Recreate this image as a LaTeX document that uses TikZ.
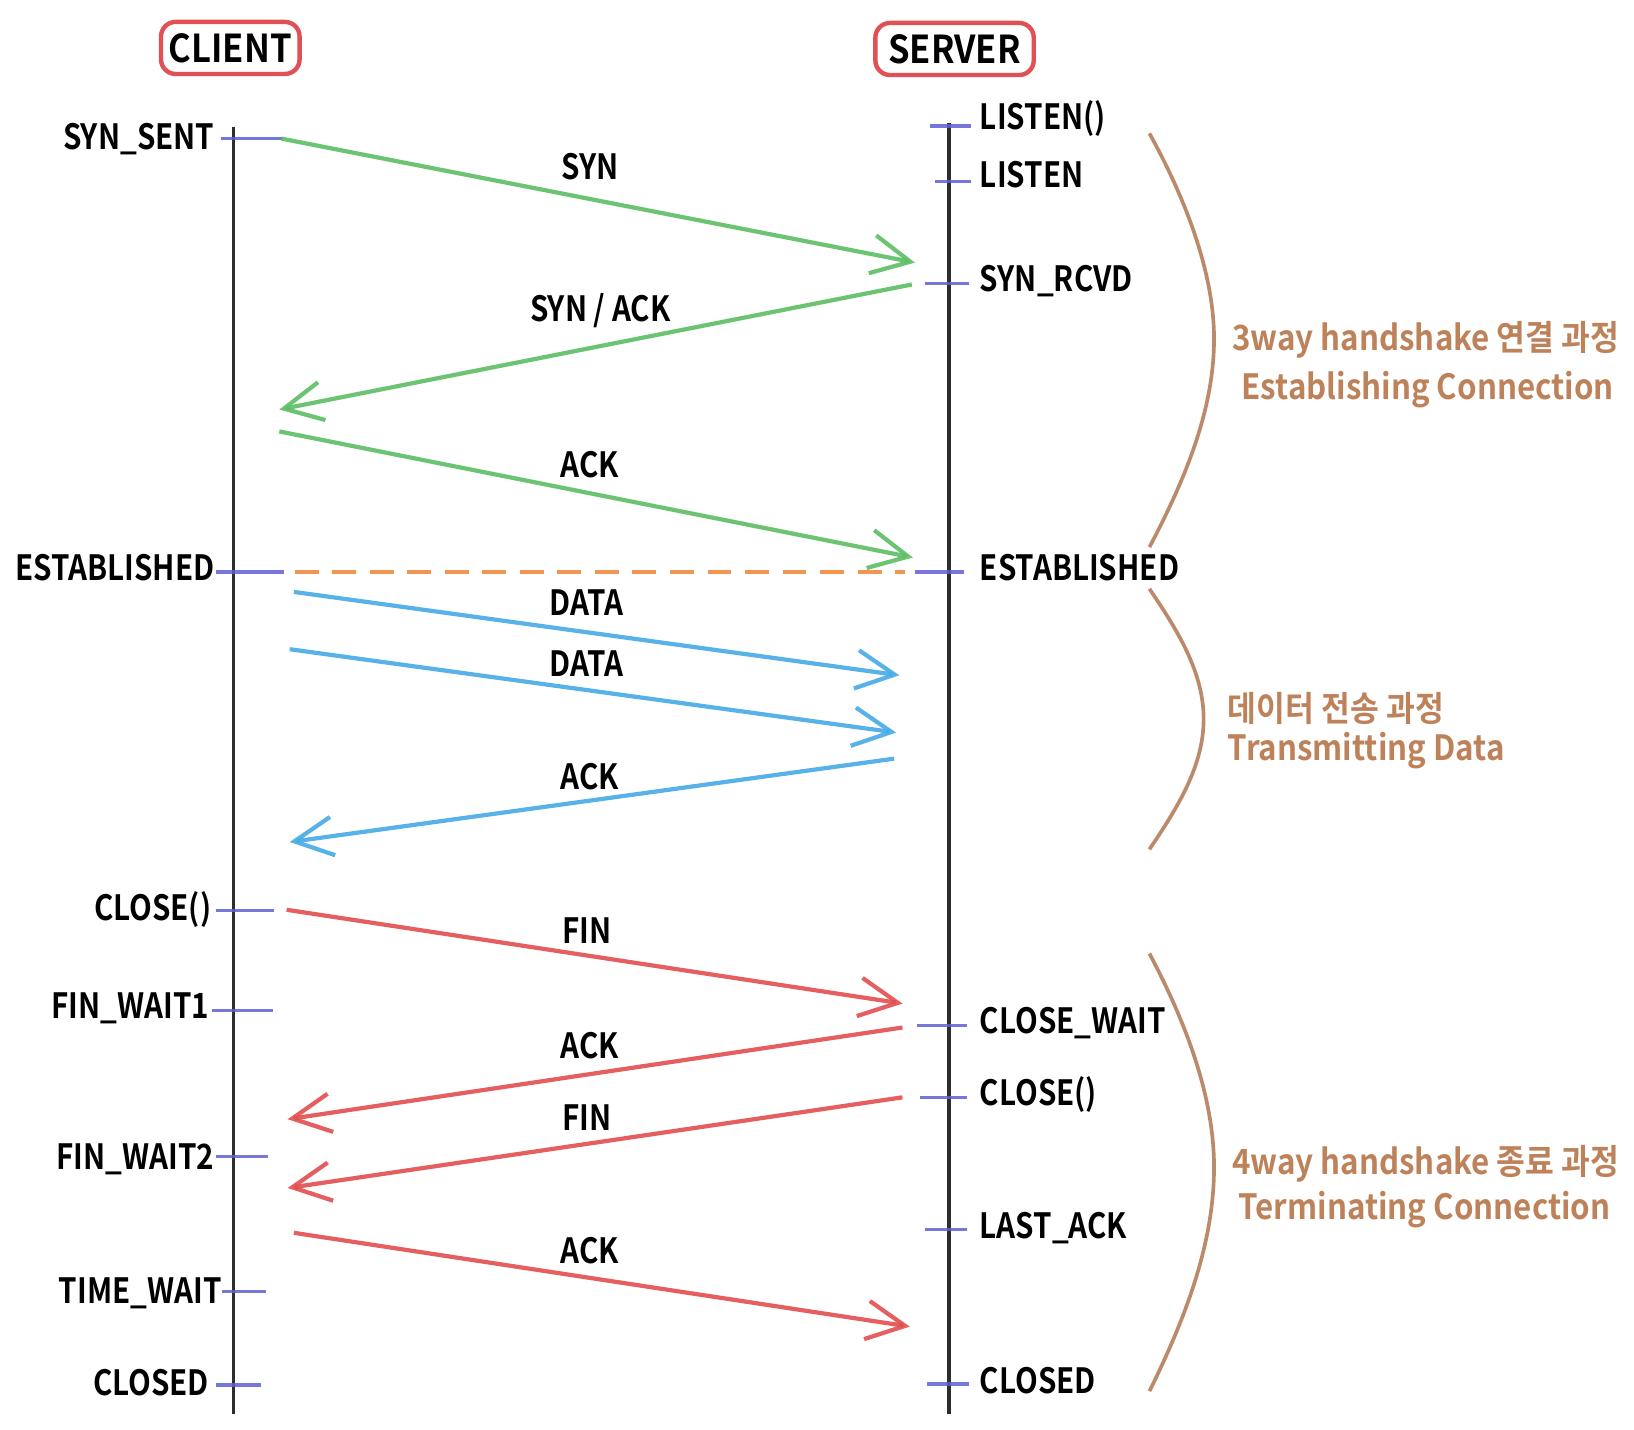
\documentclass[tikz,border=0pt]{standalone}
\usepackage{fontspec}
\usetikzlibrary{arrows.meta}
\newfontfamily\labfont{Noto Sans CJK KR Bold}[FakeStretch=0.85]
\newfontfamily\headfont{Noto Sans CJK KR Bold}[FakeStretch=0.9]
\newfontfamily\brownfont{Noto Sans CJK KR Bold}[FakeStretch=0.9]
\definecolor{pgreen}{RGB}{92,190,100}
\definecolor{pblue}{RGB}{70,170,230}
\definecolor{pred}{RGB}{226,78,80}
\definecolor{porange}{RGB}{240,150,80}
\definecolor{ptick}{RGB}{95,95,210}
\definecolor{pbrown}{RGB}{180,125,90}
\definecolor{ptext}{RGB}{190,130,90}
\definecolor{pline}{RGB}{45,45,45}
\definecolor{pbox}{RGB}{225,80,85}
\tikzset{
  lbl/.style={font=\labfont\fontsize{19pt}{22pt}\selectfont, inner sep=0pt},
  head/.style={font=\headfont\fontsize{21pt}{24pt}\selectfont, draw=pbox, line width=2.4pt, rounded corners=8pt, minimum width=2.66cm, minimum height=1.0cm, inner sep=0pt},
  life/.style={draw=pline, line width=2.1pt},
  tick/.style={draw=ptick, line width=1.8pt, opacity=0.85},
  msg/.style={line width=2.3pt, opacity=0.9, -{Straight Barb[length=0.74cm,width=0.74cm,line width=2.3pt]}},
  brace/.style={draw=pbrown, line width=2pt, opacity=0.9},
  brtext/.style={font=\brownfont\fontsize{19pt}{22pt}\selectfont, text=ptext, inner sep=0pt, align=center},
}
\begin{document}
\begin{tikzpicture}[x=0.02cm,y=-0.02cm]
\useasboundingbox (0,0) rectangle (1568,1372);
% headers
\node[head] (client) at (221,46) {CLIENT};
\node[head, minimum width=3.04cm] (server) at (916,47) {SERVER};
% lifelines
\coordinate (ctop) at (224,122); \coordinate (cbot) at (224,1357);
\coordinate (stop) at (911,118); \coordinate (sbot) at (911,1357);
\draw[life] (ctop) -- (cbot);
\draw[life] (stop) -- (sbot);
% client ticks
\foreach \n/\y/\a/\b in {t1/133/212/272, t2/549/207/273, t3/874/207/263, t4/970/203/262, t5/1110/207/257, t6/1239/213/255, t7/1329/207/250}{
  \coordinate (\n a) at (\a,\y); \coordinate (\n b) at (\b,\y);
  \draw[tick] (\n a) -- (\n b);
}
% server ticks
\foreach \n/\y/\a/\b in {s1/121/892/932, s2/174/897/932, s3/272/888/930, s4/549/878/925, s5/984/880/928, s6/1053/883/928, s7/1180/888/928, s8/1328/890/930}{
  \coordinate (\n a) at (\a,\y); \coordinate (\n b) at (\b,\y);
  \draw[tick] (\n a) -- (\n b);
}
% client labels
\node[lbl, anchor=east] (lsynsent) at (206,133) {SYN\_SENT};
\node[lbl, anchor=east] (lestc) at (206,545) {ESTABLISHED};
\node[lbl, anchor=east] (lclosec) at (203,873) {CLOSE()};
\node[lbl, anchor=east] (lfw1) at (201,968) {FIN\_WAIT1};
\node[lbl, anchor=east] (lfw2) at (206,1112) {FIN\_WAIT2};
\node[lbl, anchor=east] (ltw) at (213,1241) {TIME\_WAIT};
\node[lbl, anchor=east] (lclosedc) at (201,1327) {CLOSED};
% server labels
\node[lbl, anchor=west] (llisten1) at (940,114) {LISTEN()};
\node[lbl, anchor=west] (llisten2) at (940,168) {LISTEN};
\node[lbl, anchor=west] (lsynrcvd) at (940,270) {SYN\_RCVD};
\node[lbl, anchor=west] (lests) at (940,545) {ESTABLISHED};
\node[lbl, anchor=west] (lclosewait) at (940,982) {CLOSE\_WAIT};
\node[lbl, anchor=west] (lcloses) at (940,1050) {CLOSE()};
\node[lbl, anchor=west] (llastack) at (940,1178) {LAST\_ACK};
\node[lbl, anchor=west] (lcloseds) at (940,1325) {CLOSED};
% message endpoints
\coordinate (m1a) at (270,133);  \coordinate (m1b) at (878,252);
\coordinate (m2a) at (875,273);  \coordinate (m2b) at (268,393);
\coordinate (m3a) at (268,414);  \coordinate (m3b) at (876,535);
\coordinate (eqa) at (283,549);  \coordinate (eqb) at (868,549);
\coordinate (d1a) at (282,568);  \coordinate (d1b) at (863,648);
\coordinate (d2a) at (278,623);  \coordinate (d2b) at (860,703);
\coordinate (d3a) at (858,728);  \coordinate (d3b) at (278,808);
\coordinate (f1a) at (275,873);  \coordinate (f1b) at (866,963);
\coordinate (f2a) at (866,986);  \coordinate (f2b) at (276,1074);
\coordinate (f3a) at (866,1053); \coordinate (f3b) at (276,1140);
\coordinate (f4a) at (282,1183); \coordinate (f4b) at (873,1273);
% green
\draw[msg, draw=pgreen] (m1a) -- (m1b);
\draw[msg, draw=pgreen] (m2a) -- (m2b);
\draw[msg, draw=pgreen] (m3a) -- (m3b);
% orange dashed
\draw[draw=porange, line width=1.8pt, dash pattern=on 0.46cm off 0.26cm] (eqa) -- (eqb);
% blue
\draw[msg, draw=pblue] (d1a) -- (d1b);
\draw[msg, draw=pblue] (d2a) -- (d2b);
\draw[msg, draw=pblue] (d3a) -- (d3b);
% red
\draw[msg, draw=pred] (f1a) -- (f1b);
\draw[msg, draw=pred] (f2a) -- (f2b);
\draw[msg, draw=pred] (f3a) -- (f3b);
\draw[msg, draw=pred] (f4a) -- (f4b);
% message labels
\node[lbl] (msyn) at (566,160) {SYN};
\node[lbl] (msynack) at (576,298) {SYN / ACK};
\node[lbl] (mack1) at (566,446) {ACK};
\node[lbl] (mdata1) at (563,578) {DATA};
\node[lbl] (mdata2) at (563,637) {DATA};
\node[lbl] (mack2) at (566,745) {ACK};
\node[lbl] (mfin1) at (563,893) {FIN};
\node[lbl] (mack3) at (566,1003) {ACK};
\node[lbl] (mfin2) at (563,1072) {FIN};
\node[lbl] (mack4) at (566,1200) {ACK};
% braces
\coordinate (b1a) at (1103,128); \coordinate (b1m) at (1165,325); \coordinate (b1b) at (1103,525);
\coordinate (b2a) at (1103,565); \coordinate (b2m) at (1155,690); \coordinate (b2b) at (1103,815);
\coordinate (b3a) at (1103,915); \coordinate (b3m) at (1165,1120); \coordinate (b3b) at (1103,1335);
\draw[brace] (b1a) .. controls (1140,195) and (1165,265) .. (b1m) .. controls (1165,390) and (1140,455) .. (b1b);
\draw[brace] (b2a) .. controls (1130,605) and (1155,645) .. (b2m) .. controls (1155,735) and (1130,775) .. (b2b);
\draw[brace] (b3a) .. controls (1140,985) and (1165,1055) .. (b3m) .. controls (1165,1190) and (1140,1260) .. (b3b);
% brace texts
\node[brtext] (t3way) at (1368,326) {3way handshake 연결 과정};
\node[brtext] (test) at (1370,374) {Establishing Connection};
\node[brtext, anchor=west] (tdata) at (1178,680) {데이터 전송 과정};
\node[brtext, anchor=west] (ttrans) at (1178,720) {Transmitting Data};
\node[brtext] (t4way) at (1368,1117) {4way handshake 종료 과정};
\node[brtext] (tterm) at (1367,1161) {Terminating Connection};
\end{tikzpicture}
\end{document}
